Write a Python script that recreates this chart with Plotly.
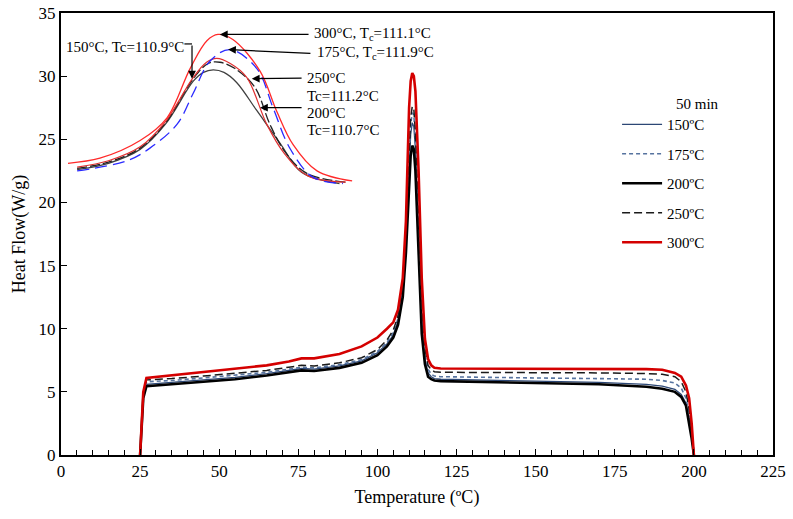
import plotly.graph_objects as go

# main DSC curves (heat flow, W/g) on a shared temperature grid (°C)
temp = [25, 25.5, 26, 27, 35, 45, 55, 65, 72, 76, 80, 88, 95, 100, 103, 105,
        106.5, 108, 109, 110, 110.5, 111, 111.5, 112, 113, 114, 115, 116, 117,
        118, 120, 130, 150, 170, 185, 190, 194, 196, 197.5, 198.5, 199.3, 200]

hf_150 = [0, 2.0, 4.6, 5.6, 5.75, 5.95, 6.15, 6.45, 6.7, 6.85, 6.8, 7.05, 7.45,
          8.1, 8.8, 9.5, 10.6, 13.0, 17.0, 23.0, 25.4, 26.3, 26.0, 24.2, 17.0,
          10.5, 7.6, 6.5, 6.2, 6.05, 6.0, 5.95, 5.85, 5.75, 5.6, 5.45, 5.2,
          4.8, 4.1, 2.8, 1.4, 0]
hf_175 = [0, 2.1, 4.7, 5.8, 5.9, 6.1, 6.3, 6.55, 6.8, 6.95, 6.9, 7.15, 7.55,
          8.2, 8.9, 9.7, 10.8, 13.3, 17.5, 23.8, 26.2, 27.1, 26.9, 25.0, 18.0,
          11.0, 8.0, 6.8, 6.4, 6.25, 6.2, 6.15, 6.1, 6.05, 6.0, 5.9, 5.7,
          5.3, 4.5, 3.2, 1.6, 0]
hf_200 = [0, 2.0, 4.5, 5.45, 5.6, 5.8, 6.0, 6.3, 6.55, 6.7, 6.65, 6.9, 7.3,
          7.9, 8.6, 9.3, 10.3, 12.5, 16.0, 21.5, 23.7, 24.5, 24.2, 22.5, 15.5,
          9.6, 7.2, 6.2, 6.0, 5.9, 5.85, 5.8, 5.7, 5.6, 5.4, 5.25, 5.0,
          4.6, 3.9, 2.6, 1.3, 0]
hf_250 = [0, 2.2, 4.8, 5.95, 6.05, 6.25, 6.45, 6.7, 6.95, 7.1, 7.05, 7.3, 7.7,
          8.35, 9.1, 9.9, 11.0, 13.6, 17.9, 24.3, 26.7, 27.6, 27.4, 25.5, 18.5,
          11.5, 8.4, 7.1, 6.75, 6.6, 6.55, 6.55, 6.55, 6.5, 6.45, 6.4, 6.2,
          5.8, 5.0, 3.6, 1.8, 0]
hf_300 = [0, 2.5, 5.0, 6.1, 6.3, 6.55, 6.8, 7.1, 7.4, 7.65, 7.65, 8.0, 8.6,
          9.3, 10.0, 10.5, 11.5, 14.0, 18.5, 27.5, 29.6, 30.25, 30.0, 28.8, 22.5,
          14.0, 9.2, 7.6, 7.1, 6.9, 6.85, 6.85, 6.85, 6.85, 6.8, 6.75, 6.5,
          6.2, 5.5, 4.5, 2.5, 0]

# magnified crystallization peaks (inset), read in the main axis frame
inset_300_x = [2.2, 12.3, 25.0, 33.5, 40.8, 46.1, 49.6, 54.3, 62.9, 68.2, 73.3, 80.9, 92.0]
inset_300_y = [23.1, 23.5, 24.9, 26.7, 30.6, 32.8, 33.3, 32.9, 30.4, 27.2, 24.6, 22.5, 21.7]
inset_175_x = [5.1, 20.9, 28.1, 36.7, 41.7, 47.1, 53.4, 61.9, 67.0, 72.3, 79.6, 89.1]
inset_175_y = [22.5, 23.3, 24.3, 26.2, 28.6, 31.2, 32.1, 30.6, 27.5, 24.3, 22.0, 21.5]
inset_150_x = [5.1, 15.0, 25.0, 33.0, 41.8, 46.0, 49.2, 53.5, 58.7, 65.0, 70.5, 78.0, 90.0]
inset_150_y = [22.8, 23.3, 24.4, 26.4, 29.9, 31.1, 31.4, 31.0, 29.9, 26.2, 23.9, 22.1, 21.6]
inset_250_x = [5.1, 15.0, 25.0, 33.0, 41.8, 46.5, 50.2, 55.0, 61.3, 66.0, 70.8, 77.7, 90.4]
inset_250_y = [22.7, 23.2, 24.3, 26.3, 29.8, 31.0, 31.1, 30.6, 29.1, 26.2, 24.0, 22.3, 21.6]
inset_200_x = [5.1, 15.0, 25.0, 33.0, 41.8, 45.0, 48.1, 51.5, 55.5, 61.8, 69.2, 76.0, 88.0]
inset_200_y = [22.6, 23.1, 24.2, 26.2, 29.6, 30.3, 30.5, 30.3, 29.5, 27.3, 24.7, 22.4, 21.5]

series_names = ["150ºC", "175ºC", "200ºC", "250ºC", "300ºC"]

serif = "Liberation Serif"

fig = go.Figure()

main_styles = [
    dict(color="#2c4775", width=1.3, dash="solid"),
    dict(color="#56739f", width=1.6, dash="4px,3px"),
    dict(color="#000000", width=2.6, dash="solid"),
    dict(color="#1a1a1a", width=1.5, dash="8px,4px"),
    dict(color="#d40000", width=2.6, dash="solid"),
]
main_data = [hf_150, hf_175, hf_200, hf_250, hf_300]

for name, hf, ln in zip(series_names, main_data, main_styles):
    fig.add_trace(go.Scatter(
        x=temp, y=hf, mode="lines", name=name, line=ln,
        legendgroup=name
    ))

inset = [
    (inset_200_x, inset_200_y, dict(color="#404040", width=1.3)),
    (inset_250_x, inset_250_y, dict(color="#222222", width=1.3, dash="10px,3px")),
    (inset_150_x, inset_150_y, dict(color="#e03030", width=1.2)),
    (inset_175_x, inset_175_y, dict(color="#2a2aff", width=1.3, dash="12px,6px")),
    (inset_300_x, inset_300_y, dict(color="#ff2a2a", width=1.3)),
]
for ix, iy, ln in inset:
    ln["shape"] = "spline"
    fig.add_trace(go.Scatter(x=ix, y=iy, mode="lines", line=ln,
                             showlegend=False, hoverinfo="skip"))

txt = dict(family=serif, size=15, color="black")


def arrow(x, y, ax, ay):
    fig.add_annotation(x=x, y=y, ax=ax, ay=ay, axref="x", ayref="y", text="",
                       showarrow=True, arrowhead=2, arrowsize=1.3,
                       arrowwidth=1.2, arrowcolor="black")


def label(x, y, text):
    fig.add_annotation(x=x, y=y, text=text, showarrow=False, xanchor="left",
                       yanchor="middle", align="left", font=txt)


arrow(50.2, 33.3, 78.7, 33.3)
label(79.4, 33.3, "300°C, T<sub>c</sub>=111.1°C")
arrow(52.8, 32.1, 79.3, 31.8)
label(80.4, 31.8, "175°C, T<sub>c</sub>=111.9°C")
arrow(60.3, 29.8, 76.5, 29.85)
label(77.2, 29.85, "250°C")
label(77.2, 28.45, "Tc=111.2°C")
arrow(62.9, 27.5, 76.5, 27.5)
label(77.2, 27.1, "200°C")
label(77.2, 25.7, "Tc=110.7°C")
label(1.0, 32.3, "150°C, Tc=110.9°C")
arrow(41.4, 29.8, 41.4, 32.55)
fig.add_shape(type="line", x0=39.0, y0=32.55, x1=41.4, y1=32.55,
              line=dict(color="black", width=1.2))

fig.add_annotation(x=0.927, y=0.816, xref="paper", yref="paper", text="50 min",
                   showarrow=False, font=txt)

fig.update_layout(
    width=793, height=519,
    margin=dict(l=61, r=20, t=13, b=64),
    paper_bgcolor="white", plot_bgcolor="white",
    font=dict(family=serif, size=17, color="black"),
    showlegend=True,
    legend=dict(x=0.781, y=0.785, xanchor="left", yanchor="top",
                font=dict(family=serif, size=15), tracegroupgap=7,
                itemwidth=40, bgcolor="rgba(0,0,0,0)"),
    xaxis=dict(
        range=[0, 225], dtick=25, showgrid=False, zeroline=False,
        showline=True, linecolor="black", linewidth=2, mirror=True,
        ticks="inside", ticklen=6, tickcolor="black", automargin=False,
        ticklabeloverflow="allow",
        minor=dict(dtick=5, ticks="inside", ticklen=5, tickcolor="black"),
        title=dict(text="Temperature (ºC)", font=dict(size=18), standoff=10),
    ),
    yaxis=dict(
        range=[0, 35], dtick=5, showgrid=False, zeroline=False,
        showline=True, linecolor="black", linewidth=2, mirror=True,
        ticks="inside", ticklen=6, tickcolor="black", automargin=False,
        ticklabeloverflow="allow",
        title=dict(text="Heat Flow(W/g)", font=dict(size=18), standoff=8),
    ),
)

# drop the page's default body margin so the figure sits at the top-left corner
fig.write_html("out.html", config={"displayModeBar": False},
               post_script="document.body.style.margin = '0';")
